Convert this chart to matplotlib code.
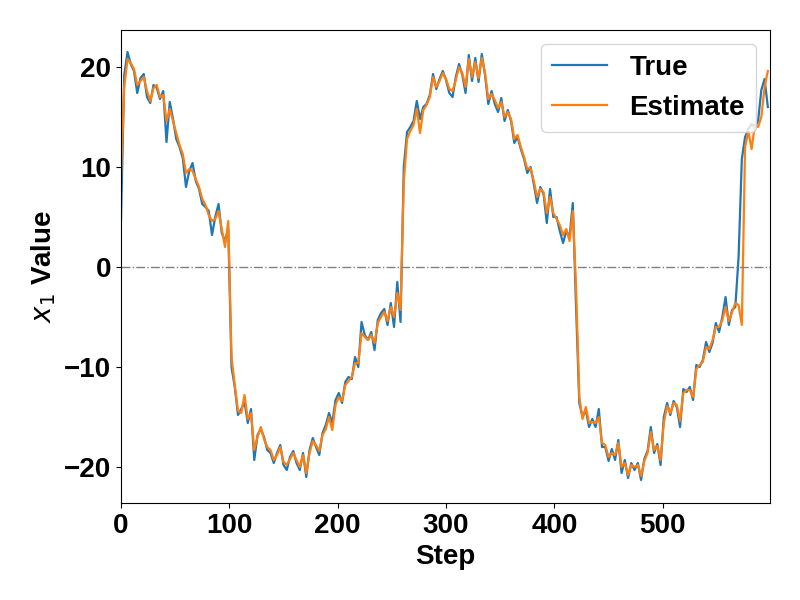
import numpy as np
import matplotlib
matplotlib.use('Agg')
import matplotlib.pyplot as plt

plt.rcParams['font.family'] = ['Liberation Sans', 'DejaVu Sans']
plt.rcParams['font.weight'] = 'bold'
plt.rcParams['mathtext.fontset'] = 'custom'
plt.rcParams['mathtext.it'] = 'DejaVu Sans:italic:normal'
plt.rcParams['mathtext.rm'] = 'DejaVu Sans:normal'

# values read every 3 steps
true_vals = [
    4.7, 19.2, 21.5, 20.3, 19.6, 17.4, 18.9, 19.3, 17.0, 16.4,
    18.2, 17.9, 16.8, 17.6, 12.5, 16.5, 14.8, 12.8, 12.0, 10.9,
    8.0, 9.6, 10.4, 8.6, 7.8, 6.3, 6.0, 5.6, 3.2, 5.0,
    6.3, 3.4, 2.6, 3.8, -10.0, -12.0, -14.8, -14.2, -13.5, -15.6,
    -14.2, -19.3, -16.8, -16.2, -17.0, -18.3, -18.6, -19.6, -18.6, -17.8,
    -19.8, -20.3, -19.0, -18.4, -19.6, -20.3, -18.6, -21.0, -18.3, -17.1,
    -18.0, -18.8, -16.6, -15.8, -14.6, -15.6, -13.3, -12.6, -13.6, -11.5,
    -11.0, -11.2, -9.0, -10.0, -5.5, -6.8, -7.3, -6.5, -8.3, -5.3,
    -4.6, -4.2, -5.8, -3.6, -6.0, -1.5, -5.5, 10.0, 13.5, 14.0,
    14.6, 16.6, 14.8, 16.0, 16.3, 17.2, 19.3, 17.8, 18.8, 19.6,
    18.7, 17.4, 17.0, 19.0, 20.3, 19.2, 17.4, 21.2, 18.6, 20.9,
    18.5, 21.3, 19.2, 16.3, 17.6, 16.3, 15.5, 16.9, 14.6, 15.7,
    14.6, 12.4, 13.0, 11.8, 10.8, 9.4, 10.0, 8.3, 6.4, 8.0,
    7.3, 4.4, 7.8, 5.0, 5.0, 3.6, 2.4, 3.6, 3.0, 6.4,
    -4.0, -13.6, -15.0, -14.3, -16.0, -15.2, -16.0, -14.2, -18.0, -18.0,
    -19.4, -18.2, -19.3, -17.3, -20.6, -19.3, -21.1, -19.6, -20.3, -19.6,
    -21.3, -19.2, -18.4, -16.0, -18.6, -17.7, -19.8, -15.0, -13.6, -14.8,
    -13.4, -14.0, -16.0, -12.2, -12.5, -12.0, -13.3, -9.8, -10.0, -9.3,
    -7.5, -8.5, -7.6, -5.6, -6.5, -5.0, -3.0, -5.8, -4.3, -4.0,
    1.0, 10.8, 13.0, 13.8, 14.3, 14.0, 14.6, 17.7, 18.8, 16.0,
]

est_vals = [
    9.0, 18.0, 20.8, 20.4, 19.8, 18.2, 18.6, 19.0, 17.6, 16.6,
    17.9, 18.2, 17.0, 17.2, 14.6, 15.8, 14.6, 13.4, 12.2, 11.3,
    9.4, 9.8, 9.6, 8.8, 8.0, 6.8, 6.2, 5.2, 4.6, 4.8,
    5.6, 3.8, 2.0, 4.6, -9.0, -11.8, -14.4, -14.6, -12.8, -15.2,
    -14.6, -18.3, -17.0, -16.0, -17.2, -18.0, -18.3, -19.3, -18.8, -18.0,
    -19.5, -19.8, -19.2, -18.6, -19.3, -20.0, -18.8, -20.6, -18.6, -17.4,
    -17.8, -18.4, -16.8, -16.2, -15.0, -16.3, -13.8, -13.0, -13.4, -11.8,
    -11.4, -11.0, -9.6, -9.6, -6.6, -7.0, -7.3, -6.8, -7.6, -5.6,
    -5.0, -4.5, -5.4, -4.0, -5.0, -2.6, -4.3, 8.5, 12.8, 13.6,
    14.2, 15.8, 13.4, 15.7, 16.2, 17.0, 19.0, 18.0, 18.6, 19.4,
    18.8, 17.8, 17.6, 18.7, 20.0, 19.4, 18.0, 20.8, 19.0, 20.5,
    18.9, 20.9, 19.4, 16.8, 17.3, 16.7, 15.9, 16.5, 15.0, 15.5,
    14.8, 12.8, 13.2, 12.0, 11.0, 9.8, 9.9, 8.6, 7.0, 7.8,
    7.5, 5.4, 7.0, 5.4, 4.8, 4.2, 3.2, 3.8, 2.6, 5.6,
    -2.0, -13.0, -15.2, -14.0, -15.6, -15.5, -15.6, -15.0, -17.6, -17.8,
    -19.0, -18.6, -18.8, -17.6, -20.0, -19.6, -20.8, -19.8, -20.0, -19.8,
    -20.9, -19.4, -18.6, -16.5, -18.3, -17.9, -19.3, -15.6, -13.9, -14.6,
    -13.6, -13.8, -15.4, -12.6, -12.3, -12.3, -13.0, -10.2, -9.8, -9.5,
    -8.0, -8.2, -7.3, -6.0, -6.0, -5.3, -4.0, -5.4, -4.5, -3.6,
    -3.8, -5.8, 12.0, 13.6, 11.8, 14.2, 14.0, 15.0, 18.0, 19.6,
]

steps = np.arange(len(true_vals)) * 3

fig, ax = plt.subplots(figsize=(8, 6), dpi=100)
fig.subplots_adjust(left=121/800, right=770/800, top=1-30/600, bottom=1-503/600)

ax.plot(steps, true_vals, color='C0', lw=1.6, label='True')
ax.plot(steps, est_vals, color='C1', lw=1.6, label='Estimate')
ax.axhline(0, color='gray', ls='-.', lw=1)

ax.set_xlim(0, 599)
ax.set_ylim(-23.6, 23.7)
ax.set_xticks([0, 100, 200, 300, 400, 500])
ax.set_yticks([-20, -10, 0, 10, 20])
ax.tick_params(labelsize=20)
for t in ax.get_xticklabels() + ax.get_yticklabels():
    t.set_fontweight('bold')

ax.set_xlabel('Step', fontsize=20, fontweight='bold')
ax.set_ylabel('$x_1$ Value', fontsize=20, fontweight='bold')
ax.legend(loc='upper right', prop={'size': 20, 'weight': 'bold'})

fig.savefig('out.png', dpi=100)
